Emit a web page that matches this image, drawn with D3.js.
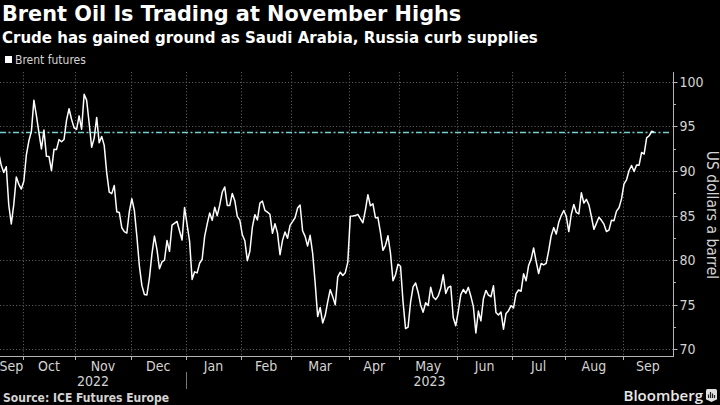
<!DOCTYPE html>
<html><head><meta charset="utf-8">
<script src="https://cdn.jsdelivr.net/npm/d3@7"></script>
<style>
html,body{margin:0;padding:0;background:#000;}
svg{display:block;}
</style>
</head><body>
<svg id="chart" width="720" height="405"></svg>
<script>
// ---------- DATA ----------
const title = "Brent Oil Is Trading at November Highs";
const subtitle = "Crude has gained ground as Saudi Arabia, Russia curb supplies";
const seriesName = "Brent futures";
const yAxisTitle = "US dollars a barrel";
const sourceText = "Source: ICE Futures Europe";

const dates = [
"2022-09-19","2022-09-20","2022-09-21","2022-09-22","2022-09-23","2022-09-26","2022-09-27","2022-09-28","2022-09-29","2022-09-30",
"2022-10-03","2022-10-04","2022-10-05","2022-10-06","2022-10-07","2022-10-10","2022-10-11","2022-10-12","2022-10-13","2022-10-14","2022-10-17","2022-10-18","2022-10-19","2022-10-20","2022-10-21","2022-10-24","2022-10-25","2022-10-26","2022-10-27","2022-10-28","2022-10-31",
"2022-11-01","2022-11-02","2022-11-03","2022-11-04","2022-11-07","2022-11-08","2022-11-09","2022-11-10","2022-11-11","2022-11-14","2022-11-15","2022-11-16","2022-11-17","2022-11-18","2022-11-21","2022-11-22","2022-11-23","2022-11-24","2022-11-25","2022-11-28","2022-11-29","2022-11-30",
"2022-12-01","2022-12-02","2022-12-05","2022-12-06","2022-12-07","2022-12-08","2022-12-09","2022-12-12","2022-12-13","2022-12-14","2022-12-15","2022-12-16","2022-12-19","2022-12-20","2022-12-21","2022-12-22","2022-12-23","2022-12-27","2022-12-28","2022-12-29","2022-12-30",
"2023-01-03","2023-01-04","2023-01-05","2023-01-06","2023-01-09","2023-01-10","2023-01-11","2023-01-12","2023-01-13","2023-01-16","2023-01-17","2023-01-18","2023-01-19","2023-01-20","2023-01-23","2023-01-24","2023-01-25","2023-01-26","2023-01-27","2023-01-30","2023-01-31",
"2023-02-01","2023-02-02","2023-02-03","2023-02-06","2023-02-07","2023-02-08","2023-02-09","2023-02-10","2023-02-13","2023-02-14","2023-02-15","2023-02-16","2023-02-17","2023-02-20","2023-02-21","2023-02-22","2023-02-23","2023-02-24","2023-02-27","2023-02-28",
"2023-03-01","2023-03-02","2023-03-03","2023-03-06","2023-03-07","2023-03-08","2023-03-09","2023-03-10","2023-03-13","2023-03-14","2023-03-15","2023-03-16","2023-03-17","2023-03-20","2023-03-21","2023-03-22","2023-03-23","2023-03-24","2023-03-27","2023-03-28","2023-03-29","2023-03-30","2023-03-31",
"2023-04-03","2023-04-04","2023-04-05","2023-04-06","2023-04-10","2023-04-11","2023-04-12","2023-04-13","2023-04-14","2023-04-17","2023-04-18","2023-04-19","2023-04-20","2023-04-21","2023-04-24","2023-04-25","2023-04-26","2023-04-27","2023-04-28",
"2023-05-01","2023-05-02","2023-05-03","2023-05-04","2023-05-05","2023-05-08","2023-05-09","2023-05-10","2023-05-11","2023-05-12","2023-05-15","2023-05-16","2023-05-17","2023-05-18","2023-05-19","2023-05-22","2023-05-23","2023-05-24","2023-05-25","2023-05-26","2023-05-29","2023-05-30","2023-05-31",
"2023-06-01","2023-06-02","2023-06-05","2023-06-06","2023-06-07","2023-06-08","2023-06-09","2023-06-12","2023-06-13","2023-06-14","2023-06-15","2023-06-16","2023-06-19","2023-06-20","2023-06-21","2023-06-22","2023-06-23","2023-06-26","2023-06-27","2023-06-28","2023-06-29","2023-06-30",
"2023-07-03","2023-07-04","2023-07-05","2023-07-06","2023-07-07","2023-07-10","2023-07-11","2023-07-12","2023-07-13","2023-07-14","2023-07-17","2023-07-18","2023-07-19","2023-07-20","2023-07-21","2023-07-24","2023-07-25","2023-07-26","2023-07-27","2023-07-28","2023-07-31",
"2023-08-01","2023-08-02","2023-08-03","2023-08-04","2023-08-07","2023-08-08","2023-08-09","2023-08-10","2023-08-11","2023-08-14","2023-08-15","2023-08-16","2023-08-17","2023-08-18","2023-08-21","2023-08-22","2023-08-23","2023-08-24","2023-08-25","2023-08-28","2023-08-29","2023-08-30","2023-08-31",
"2023-09-01","2023-09-04","2023-09-05","2023-09-06","2023-09-07","2023-09-08","2023-09-11","2023-09-12","2023-09-13","2023-09-14","2023-09-15","2023-09-18","2023-09-19"
];

const prices = [
92.00,90.62,89.83,90.46,86.15,84.06,86.27,89.32,88.49,87.96,
88.86,91.80,93.37,94.42,97.92,96.19,94.29,92.45,94.57,91.63,91.62,90.03,92.41,92.38,93.50,93.26,93.52,95.69,96.96,95.77,94.83,
94.65,96.16,94.67,98.57,97.92,95.36,92.65,93.67,95.99,93.14,93.86,92.86,89.78,87.62,87.45,88.36,85.41,85.34,83.63,83.19,83.03,85.43,
86.88,85.57,82.68,79.35,77.17,76.15,76.10,77.99,80.68,82.70,81.21,79.04,79.80,79.99,82.20,80.98,83.92,84.33,83.26,82.26,85.91,
82.10,77.84,78.69,78.57,79.65,80.10,82.67,84.03,85.28,84.46,85.92,84.98,86.16,87.63,88.19,86.13,86.12,87.47,86.66,84.90,84.49,
82.84,82.17,79.94,80.99,83.69,85.09,84.50,86.39,86.61,85.58,85.38,85.14,83.00,84.07,83.05,80.60,82.21,83.16,82.45,83.89,
84.31,84.75,85.83,86.18,83.29,82.66,81.59,82.78,80.77,77.45,73.69,74.70,72.97,73.79,75.32,76.69,75.91,74.99,78.12,78.65,78.28,78.60,79.77,
84.93,84.94,84.99,85.12,84.18,85.61,87.33,86.09,86.31,84.76,84.77,83.12,81.10,81.66,82.73,80.77,77.69,78.37,79.54,
79.31,75.32,72.33,72.50,75.30,77.01,77.44,76.41,74.98,74.17,75.23,74.91,76.96,75.86,75.58,75.99,76.84,78.36,76.26,76.95,77.07,73.54,72.66,
74.28,76.13,76.71,76.29,76.95,75.96,74.79,71.84,74.29,73.20,75.67,76.61,76.09,75.90,77.12,74.14,73.85,74.18,72.26,74.03,74.34,74.90,
74.65,76.25,76.65,76.52,78.47,77.69,79.40,80.11,81.36,79.87,78.50,79.63,79.46,79.64,81.07,82.74,83.64,82.92,84.24,84.99,85.56,
84.91,83.20,85.14,86.24,85.34,85.17,87.55,86.40,86.81,86.21,84.89,83.45,84.12,84.80,84.46,84.03,83.21,83.36,84.48,84.42,85.49,85.86,86.86,
88.55,89.00,90.04,90.60,89.92,90.65,90.64,92.06,91.88,93.70,93.93,94.43,94.34
];

const referenceLevel = 94.3;           // current level / November highs marker
const yMajorTicks = [70, 75, 80, 85, 90, 95, 100];
const yMinorTicks = [72.5, 77.5, 82.5, 87.5, 92.5, 97.5];
const monthStarts = ["2022-09-01","2022-10-01","2022-11-01","2022-12-01","2023-01-01","2023-02-01","2023-03-01","2023-04-01","2023-05-01","2023-06-01","2023-07-01","2023-08-01","2023-09-01","2023-10-01"];
const monthLabels = ["Sep","Oct","Nov","Dec","Jan","Feb","Mar","Apr","May","Jun","Jul","Aug","Sep"];
const yearStarts = ["2022-01-01","2023-01-01","2024-01-01"];
const yearLabels = ["2022","2023"];

// ---------- LAYOUT ----------
const W = 720, H = 405;
const plot = {left: 0, right: 673, top: 72, bottom: 356};
const axisFont = "'Liberation Sans Narrow','DejaVu Sans Condensed','Roboto Condensed',sans-serif";
const textGray = "#d4d4d4";

const svg = d3.select("#chart");
svg.append("rect").attr("width", W).attr("height", H).attr("fill", "#000");

const parse = d3.utcParse("%Y-%m-%d");
const t0 = parse(dates[0]);
// trading-day (weekday) index relative to first observation
function wdIndex(dt) {
  const days = Math.round((dt - t0) / 864e5);
  const w = Math.floor(days / 7), r = days - w * 7;
  return w * 5 + Math.min(r, 5);
}
const data = dates.map((d, i) => ({i: wdIndex(parse(d)), v: prices[i]}));

const x = d3.scaleLinear().domain([0.5, 268.5]).range([plot.left, plot.right]);
const y = d3.scaleLinear().domain([70, 100]).range([349.4, 81.6]);

const clamp = v => Math.max(plot.left, Math.min(plot.right, v));
const monthBounds = monthStarts.map(s => clamp(x(wdIndex(parse(s)) - 0.5)));
const yearBounds = yearStarts.map(s => clamp(x(wdIndex(parse(s)) - 0.5)));

// gridlines
const grid = svg.append("g").attr("stroke", "#5a5a5a").attr("stroke-width", 1).attr("stroke-dasharray", "1.2,2");
grid.selectAll("line.h").data(yMajorTicks).join("line")
  .attr("x1", plot.left).attr("x2", plot.right)
  .attr("y1", d => Math.round(y(d)) + 0.5).attr("y2", d => Math.round(y(d)) + 0.5);
grid.selectAll("line.v").data(monthBounds.slice(1, -1)).join("line")
  .attr("x1", d => Math.round(d) + 0.5).attr("x2", d => Math.round(d) + 0.5)
  .attr("y1", plot.top).attr("y2", plot.bottom);

// reference dash-dot line
svg.append("line")
  .attr("x1", plot.left).attr("x2", plot.right - 2)
  .attr("y1", y(referenceLevel)).attr("y2", y(referenceLevel))
  .attr("stroke", "#72d3cf").attr("stroke-width", 1.4)
  .attr("stroke-dasharray", "6,2.5,2,2.5");

// clip
svg.append("clipPath").attr("id", "clip").append("rect")
  .attr("x", plot.left).attr("y", plot.top - 5).attr("width", plot.right - plot.left).attr("height", plot.bottom - plot.top + 5);

// series line
svg.append("path")
  .datum(data)
  .attr("clip-path", "url(#clip)")
  .attr("fill", "none").attr("stroke", "#ffffff").attr("stroke-width", 1.5)
  .attr("stroke-linejoin", "round")
  .attr("d", d3.line().x(d => x(d.i)).y(d => y(d.v)));

// right y axis
const yAxis = svg.append("g").attr("transform", `translate(${plot.right + 0.5},0)`);
yAxis.append("line").attr("y1", plot.top).attr("y2", plot.bottom).attr("stroke", "#b5b5b5");
yAxis.selectAll("line.maj").data(yMajorTicks).join("line")
  .attr("x1", 0).attr("x2", 4).attr("y1", d => Math.round(y(d)) + 0.5).attr("y2", d => Math.round(y(d)) + 0.5)
  .attr("stroke", "#b5b5b5");
yAxis.selectAll("line.min").data(yMinorTicks).join("line")
  .attr("x1", 0).attr("x2", 2.5).attr("y1", d => Math.round(y(d)) + 0.5).attr("y2", d => Math.round(y(d)) + 0.5)
  .attr("stroke", "#b5b5b5");
yAxis.selectAll("text").data(yMajorTicks).join("text")
  .attr("x", 6).attr("y", d => y(d)).attr("dy", "0.36em")
  .attr("font-family", axisFont).attr("font-size", 14).attr("fill", textGray)
  .text(d => d);

svg.append("text")
  .attr("transform", `translate(707,215) rotate(90)`)
  .attr("text-anchor", "middle")
  .attr("font-family", axisFont).attr("font-size", 15.5).attr("fill", textGray)
  .text(yAxisTitle);

// bottom axis
const xAxis = svg.append("g");
xAxis.append("line").attr("x1", plot.left).attr("x2", plot.right + 1)
  .attr("y1", plot.bottom + 0.5).attr("y2", plot.bottom + 0.5).attr("stroke", "#b5b5b5");
xAxis.selectAll("line.tick").data(monthBounds.slice(1, -1)).join("line")
  .attr("x1", d => Math.round(d) + 0.5).attr("x2", d => Math.round(d) + 0.5)
  .attr("y1", plot.bottom).attr("y2", plot.bottom + 4).attr("stroke", "#b5b5b5");
xAxis.selectAll("text.month").data(monthLabels).join("text")
  .attr("x", (d, i) => (monthBounds[i] + monthBounds[i + 1]) / 2)
  .attr("y", 371)
  .attr("text-anchor", "middle")
  .attr("font-family", axisFont).attr("font-size", 14).attr("fill", textGray)
  .text(d => d);
xAxis.selectAll("text.year").data(yearLabels).join("text")
  .attr("x", (d, i) => (yearBounds[i] + yearBounds[i + 1]) / 2)
  .attr("y", 386)
  .attr("text-anchor", "middle")
  .attr("font-family", axisFont).attr("font-size", 14).attr("fill", textGray)
  .text(d => d);
xAxis.append("line")
  .attr("x1", Math.round(yearBounds[1]) + 0.5).attr("x2", Math.round(yearBounds[1]) + 0.5)
  .attr("y1", 372).attr("y2", 389).attr("stroke", "#777");

// titles
svg.append("text").attr("x", 2).attr("y", 21)
  .attr("font-family", "'DejaVu Sans',sans-serif").attr("font-weight", "bold")
  .attr("font-size", 20.8).attr("fill", "#fff").text(title);
svg.append("text").attr("x", 2).attr("y", 42.5)
  .attr("font-family", "'DejaVu Sans',sans-serif").attr("font-weight", "bold")
  .attr("font-size", 15).attr("fill", "#fff").text(subtitle);

// legend
svg.append("rect").attr("x", 5).attr("y", 56).attr("width", 7).attr("height", 7).attr("fill", "#fff");
svg.append("text").attr("x", 15).attr("y", 64)
  .attr("font-family", axisFont).attr("font-size", 12).attr("fill", textGray).text(seriesName);

// footer
svg.append("text").attr("x", 3).attr("y", 401.5)
  .attr("font-family", "'DejaVu Sans Condensed','DejaVu Sans',sans-serif").attr("font-weight", "bold")
  .attr("font-size", 12).attr("fill", textGray).text(sourceText);
svg.append("text").attr("x", 703).attr("y", 400.5).attr("text-anchor", "end")
  .attr("font-family", "'Open Sans','DejaVu Sans',sans-serif").attr("font-weight", 600)
  .attr("font-size", 15).attr("fill", "#e8e8e8").text("Bloomberg");
const logo = svg.append("g").attr("transform", "translate(706,389)");
logo.append("rect").attr("width", 11).attr("height", 11).attr("rx", 1.5).attr("fill", "#e0e0e0");
logo.append("path").attr("d", "M2.5,9V5.5M4.5,9V3M6.5,9V4.5M8.5,9V6").attr("stroke", "#222").attr("stroke-width", 1.2);
logo.append("path").attr("d", "M1.5,11L5.5,13L9.5,11").attr("fill", "#e0e0e0");
</script>
</body></html>
